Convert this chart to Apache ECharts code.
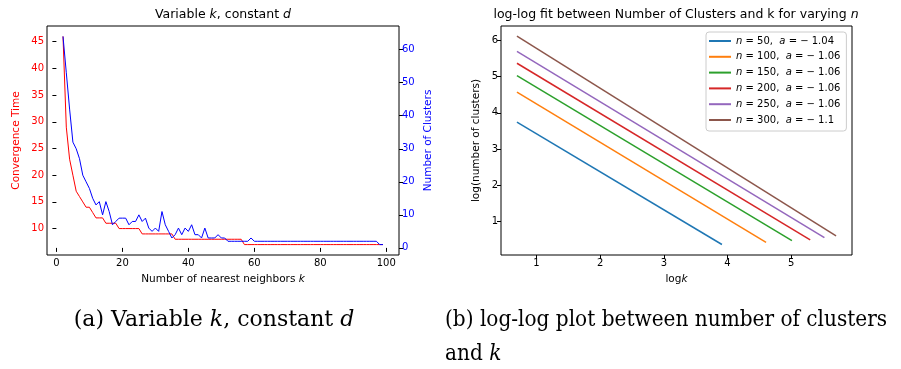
<!DOCTYPE html>
<html>
<head>
<meta charset="utf-8">
<script src="https://cdn.jsdelivr.net/npm/echarts@6/dist/echarts.min.js"></script>
<style>
  html, body { margin: 0; padding: 0; background: #fff; }
  #main { width: 901px; height: 369px; }
</style>
</head>
<body>
<div id="main"></div>
<script>
// (a) variable k, constant d
var kValues = [2,3,4,5,6,7,8,9,10,11,12,13,14,15,16,17,18,19,20,21,22,23,24,25,26,27,28,29,30,
  31,32,33,34,35,36,37,38,39,40,41,42,43,44,45,46,47,48,49,50,51,52,53,54,55,56,57,58,59,60,
  61,62,63,64,65,66,67,68,69,70,71,72,73,74,75,76,77,78,79,80,81,82,83,84,85,86,87,88,89,90,
  91,92,93,94,95,96,97,98,99];
var convTime = [46,29,23,20,17,16,15,14,14,13,12,12,12,11,11,11,11,10,10,10,10,10,10,10,9,9,9,9,9,
  9,9,9,9,9,8,8,8,8,8,8,8,8,8,8,8,8,8,8,8,8,8,8,8,8,8,7,7,7,7,
  7,7,7,7,7,7,7,7,7,7,7,7,7,7,7,7,7,7,7,7,7,7,7,7,7,7,7,7,7,7,
  7,7,7,7,7,7,7,7,7];
var numClusters = [64,53,42,32,30,27,22,20,18,15,13,14,10,14,11,7,8,9,9,9,7,8,8,10,8,9,6,5,6,
  5,11,7,5,3,4,6,4,6,5,7,4,4,3,6,3,3,3,4,3,3,2,2,2,2,2,2,2,3,2,
  2,2,2,2,2,2,2,2,2,2,2,2,2,2,2,2,2,2,2,2,2,2,2,2,2,2,2,2,2,2,
  2,2,2,2,2,2,2,1,1];
var kTicks = [0, 20, 40, 60, 80, 100];
var timeTicks = [10, 15, 20, 25, 30, 35, 40, 45];
var clusterTicks = [0, 10, 20, 30, 40, 50, 60];

// (b) log-log fits, one straight segment per n
var nValues = [50, 100, 150, 200, 250, 300];
var slopes = ['1.04', '1.06', '1.06', '1.06', '1.06', '1.1'];
var logkStart = [0.693, 0.693, 0.693, 0.693, 0.693, 0.693];
var logkEnd = [3.912, 4.605, 5.011, 5.298, 5.521, 5.704];
var logCStart = [3.74, 4.57, 5.03, 5.37, 5.70, 6.12];
var logCEnd = [0.36, 0.42, 0.47, 0.49, 0.55, 0.60];
var fitColors = ['#1f77b4', '#ff7f0e', '#2ca02c', '#d62728', '#9467bd', '#8c564b'];
var logkTicks = [1, 2, 3, 4, 5];
var logCTicks = [1, 2, 3, 4, 5, 6];

var FONT = 'DejaVu Sans';
var SERIF = 'DejaVu Serif';
var chart = echarts.init(document.getElementById('main'));

function axis(opts) {
  var ax = {
    type: 'value',
    gridIndex: opts.grid,
    position: opts.position,
    min: opts.min,
    max: opts.max,
    name: opts.name,
    nameLocation: 'middle',
    nameGap: opts.nameGap,
    nameTextStyle: {
      color: opts.nameColor || '#000', fontSize: 10.5, fontFamily: FONT,
      rich: { i: { fontStyle: 'italic', fontSize: 10.5, fontFamily: FONT, color: opts.nameColor || '#000' } }
    },
    axisLine: { show: false },
    axisTick: { show: true, length: 4, lineStyle: { color: '#000', width: 1 }, customValues: opts.ticks },
    axisLabel: { color: opts.labelColor || '#000', fontSize: 10, fontFamily: FONT, margin: 3, customValues: opts.ticks },
    splitLine: { show: false }
  };
  if (opts.rotate) ax.nameRotate = 90;
  return ax;
}

var series = [
  {
    type: 'line', xAxisIndex: 0, yAxisIndex: 0, symbol: 'none', name: 'time',
    data: kValues.map(function (k, i) { return [k, convTime[i]]; }),
    lineStyle: { color: '#ff0000', width: 1 }, itemStyle: { color: '#ff0000' }
  },
  {
    type: 'line', xAxisIndex: 0, yAxisIndex: 1, symbol: 'none', name: 'clusters',
    data: kValues.map(function (k, i) { return [k, numClusters[i]]; }),
    lineStyle: { color: '#0000ff', width: 1 }, itemStyle: { color: '#0000ff' }
  }
];
var legendNames = [];
nValues.forEach(function (n, i) {
  var nm = 'n' + n;
  legendNames.push(nm);
  series.push({
    type: 'line', xAxisIndex: 1, yAxisIndex: 2, symbol: 'none', name: nm,
    data: [[logkStart[i], logCStart[i]], [logkEnd[i], logCEnd[i]]],
    lineStyle: { color: fitColors[i], width: 1.5 }, itemStyle: { color: fitColors[i] }
  });
});

function captionText(x, y, text, sx) {
  return { type: 'text', x: x, y: y, scaleX: sx, style: {
    text: text, fontSize: 22, fontFamily: SERIF, fill: '#000',
    align: 'left', verticalAlign: 'middle', textAlign: 'left', textVerticalAlign: 'middle',
    rich: { i: { fontStyle: 'italic', fontSize: 22, fontFamily: SERIF } } } };
}
function titleText(x, text) {
  return { type: 'text', x: x, y: 15, style: {
    text: text, fontSize: 12.5, fontFamily: FONT, fill: '#000',
    align: 'center', verticalAlign: 'middle', textAlign: 'center', textVerticalAlign: 'middle',
    rich: { i: { fontStyle: 'italic', fontSize: 12.5, fontFamily: FONT } } } };
}

var option = {
  animation: false,
  backgroundColor: '#fff',
  grid: [
    { left: 47, top: 26, width: 352, height: 229, show: true, borderColor: '#000', borderWidth: 1 },
    { left: 501, top: 26, width: 351, height: 229, show: true, borderColor: '#000', borderWidth: 1 }
  ],
  xAxis: [
    axis({ grid: 0, position: 'bottom', min: -2.85, max: 103.85, ticks: kTicks,
      name: 'Number of nearest neighbors {i|k}', nameGap: 19 }),
    axis({ grid: 1, position: 'bottom', min: 0.4426, max: 5.9543, ticks: logkTicks,
      name: 'log{i|k}', nameGap: 19 })
  ],
  yAxis: [
    axis({ grid: 0, position: 'left', min: 5.05, max: 47.95, ticks: timeTicks,
      name: 'Convergence Time', nameGap: 25, nameColor: '#ff0000', labelColor: '#ff0000', rotate: true }),
    axis({ grid: 0, position: 'right', min: -2.15, max: 67.15, ticks: clusterTicks,
      name: 'Number of Clusters', nameGap: 24, nameColor: '#0000ff', labelColor: '#0000ff', rotate: true }),
    axis({ grid: 1, position: 'left', min: 0.07, max: 6.40, ticks: logCTicks,
      name: 'log(number of clusters)', nameGap: 19, rotate: true })
  ],
  legend: {
    data: legendNames,
    orient: 'vertical',
    left: 706, top: 32,
    icon: 'rect',
    itemWidth: 22, itemHeight: 2, itemGap: 5.8,
    padding: [4, 6, 6, 3],
    borderColor: '#ccc', borderWidth: 1, borderRadius: 3,
    backgroundColor: 'rgba(255,255,255,0.8)',
    formatter: function (name) {
      var i = legendNames.indexOf(name);
      return '{i|n} = ' + nValues[i] + ',  {i|a} = \u2212 ' + slopes[i];
    },
    textStyle: {
      color: '#000', fontSize: 10, fontFamily: FONT,
      rich: { i: { fontStyle: 'italic', fontSize: 10, fontFamily: FONT, color: '#000' } }
    }
  },
  graphic: [
    titleText(223, 'Variable {i|k}, constant {i|d}'),
    titleText(676, 'log-log fit between Number of Clusters and k for varying {i|n}'),
    { type: 'text', x: 214, y: 320, style: {
      text: '(a) Variable {i|k}, constant {i|d}', fontSize: 22, fontFamily: SERIF, fill: '#000',
      align: 'center', verticalAlign: 'middle', textAlign: 'center', textVerticalAlign: 'middle',
      rich: { i: { fontStyle: 'italic', fontSize: 22, fontFamily: SERIF } } } },
    captionText(445, 320, '(b) log-log plot between number of clusters', 0.913),
    captionText(445, 354, 'and {i|k}', 0.913)
  ],
  series: series
};
chart.setOption(option);
</script>
</body>
</html>
